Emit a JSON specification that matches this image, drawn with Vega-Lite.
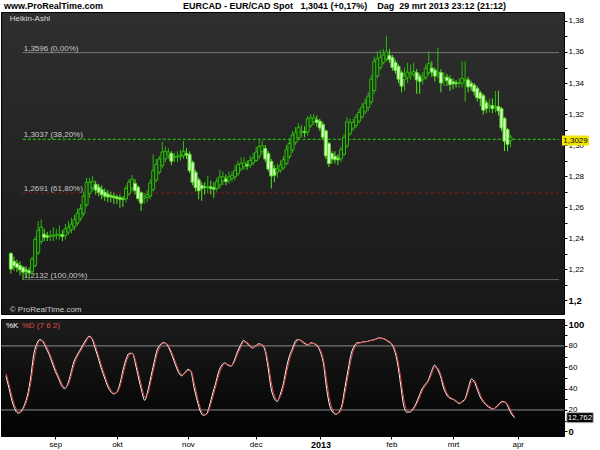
{
"$schema": "https://vega.github.io/schema/vega-lite/v6.json",
"background": "#ffffff",
"padding": {"left": 0, "top": 1, "right": 0, "bottom": 0},
"config": {"font": "Liberation Sans", "view": {"stroke": "#000000"}, "axis": {"labelOverlap": false}},
"title": {"text": "www.ProRealTime.com\u00a0\u00a0\u00a0\u00a0\u00a0\u00a0\u00a0\u00a0\u00a0\u00a0\u00a0\u00a0\u00a0\u00a0\u00a0\u00a0\u00a0\u00a0\u00a0\u00a0\u00a0\u00a0\u00a0\u00a0\u00a0\u00a0\u00a0\u00a0\u00a0\u00a0\u00a0\u00a0EURCAD - EUR/CAD Spot\u00a0\u00a0\u00a01,3041 (+0,17%)\u00a0\u00a0\u00a0\u00a0Dag\u00a0\u00a029 mrt 2013 23:12 (21:12)", "anchor": "start", "frame": "bounds", "fontSize": 9, "fontWeight": "bold", "color": "#000000", "offset": 1, "dx": 4},
"datasets": {
"ha": [
{"t":0,"o":1.2300,"h":1.2310,"l":1.2170,"c":1.2200,"k":52,"d":54},
{"t":1,"o":1.2250,"h":1.2280,"l":1.2190,"c":1.2220,"k":40,"d":44},
{"t":2,"o":1.2235,"h":1.2260,"l":1.2180,"c":1.2210,"k":28,"d":32},
{"t":3,"o":1.2222,"h":1.2250,"l":1.2160,"c":1.2195,"k":20,"d":23},
{"t":4,"o":1.2210,"h":1.2220,"l":1.2130,"c":1.2180,"k":17,"d":18},
{"t":5,"o":1.2195,"h":1.2220,"l":1.2150,"c":1.2185,"k":19,"d":18.3},
{"t":6,"o":1.2190,"h":1.2210,"l":1.2140,"c":1.2175,"k":25,"d":23},
{"t":7,"o":1.2182,"h":1.2280,"l":1.2160,"c":1.2265,"k":34,"d":31},
{"t":8,"o":1.2223,"h":1.2410,"l":1.2210,"c":1.2390,"k":50,"d":44.7},
{"t":9,"o":1.2305,"h":1.2510,"l":1.2290,"c":1.2450,"k":72,"d":64.7},
{"t":10,"o":1.2378,"h":1.2520,"l":1.2360,"c":1.2470,"k":82,"d":78.7},
{"t":11,"o":1.2425,"h":1.2460,"l":1.2380,"c":1.2405,"k":86,"d":84.7},
{"t":12,"o":1.2415,"h":1.2440,"l":1.2380,"c":1.2405,"k":84,"d":84.7},
{"t":13,"o":1.2410,"h":1.2450,"l":1.2380,"c":1.2415,"k":78,"d":80},
{"t":14,"o":1.2412,"h":1.2470,"l":1.2380,"c":1.2420,"k":72,"d":74},
{"t":15,"o":1.2416,"h":1.2460,"l":1.2390,"c":1.2420,"k":64,"d":66.7},
{"t":16,"o":1.2418,"h":1.2480,"l":1.2390,"c":1.2425,"k":56,"d":58.7},
{"t":17,"o":1.2422,"h":1.2450,"l":1.2380,"c":1.2410,"k":50,"d":52},
{"t":18,"o":1.2416,"h":1.2490,"l":1.2390,"c":1.2460,"k":43,"d":45.3},
{"t":19,"o":1.2438,"h":1.2510,"l":1.2420,"c":1.2470,"k":40,"d":41},
{"t":20,"o":1.2454,"h":1.2530,"l":1.2430,"c":1.2490,"k":44,"d":42.7},
{"t":21,"o":1.2472,"h":1.2550,"l":1.2450,"c":1.2520,"k":54,"d":50.7},
{"t":22,"o":1.2496,"h":1.2590,"l":1.2480,"c":1.2560,"k":65,"d":61.3},
{"t":23,"o":1.2528,"h":1.2620,"l":1.2510,"c":1.2590,"k":71,"d":69},
{"t":24,"o":1.2559,"h":1.2700,"l":1.2540,"c":1.2670,"k":76,"d":74.3},
{"t":25,"o":1.2615,"h":1.2790,"l":1.2600,"c":1.2760,"k":81,"d":79.3},
{"t":26,"o":1.2688,"h":1.2790,"l":1.2660,"c":1.2760,"k":86,"d":84.3},
{"t":27,"o":1.2724,"h":1.2800,"l":1.2700,"c":1.2765,"k":89,"d":88},
{"t":28,"o":1.2745,"h":1.2770,"l":1.2680,"c":1.2710,"k":86,"d":87},
{"t":29,"o":1.2728,"h":1.2750,"l":1.2670,"c":1.2695,"k":77,"d":80},
{"t":30,"o":1.2712,"h":1.2740,"l":1.2650,"c":1.2680,"k":68,"d":71},
{"t":31,"o":1.2696,"h":1.2720,"l":1.2640,"c":1.2670,"k":58,"d":61.3},
{"t":32,"o":1.2683,"h":1.2710,"l":1.2630,"c":1.2665,"k":50,"d":52.7},
{"t":33,"o":1.2674,"h":1.2700,"l":1.2630,"c":1.2665,"k":42,"d":44.7},
{"t":34,"o":1.2670,"h":1.2690,"l":1.2620,"c":1.2660,"k":37,"d":38.7},
{"t":35,"o":1.2665,"h":1.2680,"l":1.2620,"c":1.2655,"k":35,"d":35.7},
{"t":36,"o":1.2660,"h":1.2680,"l":1.2595,"c":1.2650,"k":37,"d":36.3},
{"t":37,"o":1.2655,"h":1.2670,"l":1.2600,"c":1.2650,"k":45,"d":42.3},
{"t":38,"o":1.2652,"h":1.2740,"l":1.2630,"c":1.2720,"k":58,"d":53.7},
{"t":39,"o":1.2686,"h":1.2780,"l":1.2670,"c":1.2760,"k":68,"d":64.7},
{"t":40,"o":1.2723,"h":1.2807,"l":1.2700,"c":1.2780,"k":73,"d":71.3},
{"t":41,"o":1.2751,"h":1.2780,"l":1.2680,"c":1.2705,"k":73,"d":73},
{"t":42,"o":1.2728,"h":1.2740,"l":1.2640,"c":1.2655,"k":63,"d":66.3},
{"t":43,"o":1.2692,"h":1.2700,"l":1.2575,"c":1.2625,"k":50,"d":54.3},
{"t":44,"o":1.2658,"h":1.2690,"l":1.2620,"c":1.2665,"k":38,"d":42},
{"t":45,"o":1.2662,"h":1.2710,"l":1.2630,"c":1.2680,"k":29,"d":32},
{"t":46,"o":1.2671,"h":1.2780,"l":1.2650,"c":1.2755,"k":38,"d":35},
{"t":47,"o":1.2713,"h":1.2940,"l":1.2700,"c":1.2835,"k":51,"d":46.7},
{"t":48,"o":1.2774,"h":1.2910,"l":1.2760,"c":1.2875,"k":64,"d":59.7},
{"t":49,"o":1.2825,"h":1.2930,"l":1.2810,"c":1.2910,"k":76,"d":72},
{"t":50,"o":1.2868,"h":1.3020,"l":1.2850,"c":1.2955,"k":81,"d":79.3},
{"t":51,"o":1.2911,"h":1.2990,"l":1.2890,"c":1.2960,"k":83,"d":82.3},
{"t":52,"o":1.2935,"h":1.2980,"l":1.2910,"c":1.2955,"k":82,"d":82.3},
{"t":53,"o":1.2945,"h":1.2960,"l":1.2870,"c":1.2895,"k":77,"d":78.7},
{"t":54,"o":1.2920,"h":1.2950,"l":1.2890,"c":1.2925,"k":70,"d":72.3},
{"t":55,"o":1.2922,"h":1.2960,"l":1.2890,"c":1.2928,"k":62,"d":64.7},
{"t":56,"o":1.2925,"h":1.2970,"l":1.2900,"c":1.2935,"k":55,"d":57.3},
{"t":57,"o":1.2930,"h":1.3026,"l":1.2910,"c":1.2960,"k":52,"d":53},
{"t":58,"o":1.2945,"h":1.2980,"l":1.2910,"c":1.2935,"k":55,"d":54},
{"t":59,"o":1.2940,"h":1.2960,"l":1.2820,"c":1.2835,"k":58,"d":57},
{"t":60,"o":1.2888,"h":1.2900,"l":1.2740,"c":1.2760,"k":56,"d":56.7},
{"t":61,"o":1.2824,"h":1.2840,"l":1.2700,"c":1.2725,"k":41,"d":46},
{"t":62,"o":1.2775,"h":1.2790,"l":1.2650,"c":1.2705,"k":29,"d":33},
{"t":63,"o":1.2740,"h":1.2760,"l":1.2640,"c":1.2720,"k":19,"d":22.3},
{"t":64,"o":1.2730,"h":1.2760,"l":1.2680,"c":1.2725,"k":15,"d":16.3},
{"t":65,"o":1.2728,"h":1.2800,"l":1.2690,"c":1.2732,"k":16,"d":15.7},
{"t":66,"o":1.2730,"h":1.2770,"l":1.2680,"c":1.2720,"k":24,"d":21.3},
{"t":67,"o":1.2725,"h":1.2760,"l":1.2660,"c":1.2715,"k":35,"d":31.3},
{"t":68,"o":1.2720,"h":1.2790,"l":1.2700,"c":1.2765,"k":45,"d":41.7},
{"t":69,"o":1.2742,"h":1.2840,"l":1.2720,"c":1.2795,"k":56,"d":52.3},
{"t":70,"o":1.2768,"h":1.2830,"l":1.2740,"c":1.2795,"k":62,"d":60},
{"t":71,"o":1.2781,"h":1.2810,"l":1.2740,"c":1.2765,"k":64,"d":63.3},
{"t":72,"o":1.2773,"h":1.2830,"l":1.2750,"c":1.2795,"k":62,"d":62.7},
{"t":73,"o":1.2784,"h":1.2830,"l":1.2760,"c":1.2805,"k":61,"d":61.3},
{"t":74,"o":1.2795,"h":1.2870,"l":1.2770,"c":1.2835,"k":66,"d":64.3},
{"t":75,"o":1.2815,"h":1.2900,"l":1.2800,"c":1.2875,"k":74,"d":71.3},
{"t":76,"o":1.2845,"h":1.2920,"l":1.2830,"c":1.2880,"k":80,"d":78},
{"t":77,"o":1.2862,"h":1.2920,"l":1.2840,"c":1.2885,"k":85,"d":83.3},
{"t":78,"o":1.2874,"h":1.2900,"l":1.2840,"c":1.2865,"k":83,"d":83.7},
{"t":79,"o":1.2870,"h":1.2930,"l":1.2850,"c":1.2900,"k":80,"d":81},
{"t":80,"o":1.2885,"h":1.2950,"l":1.2870,"c":1.2915,"k":78,"d":78.7},
{"t":81,"o":1.2900,"h":1.2990,"l":1.2890,"c":1.2955,"k":80,"d":79.3},
{"t":82,"o":1.2928,"h":1.3035,"l":1.2910,"c":1.2990,"k":82,"d":81.3},
{"t":83,"o":1.2959,"h":1.3030,"l":1.2940,"c":1.2995,"k":81,"d":81.3},
{"t":84,"o":1.2977,"h":1.3000,"l":1.2890,"c":1.2910,"k":76,"d":77.7},
{"t":85,"o":1.2944,"h":1.2960,"l":1.2830,"c":1.2845,"k":60,"d":65.3},
{"t":86,"o":1.2895,"h":1.2910,"l":1.2720,"c":1.2800,"k":40,"d":46.7},
{"t":87,"o":1.2848,"h":1.2870,"l":1.2760,"c":1.2805,"k":31,"d":34},
{"t":88,"o":1.2826,"h":1.2880,"l":1.2790,"c":1.2845,"k":28,"d":29},
{"t":89,"o":1.2836,"h":1.2900,"l":1.2820,"c":1.2870,"k":35,"d":32.7},
{"t":90,"o":1.2853,"h":1.2930,"l":1.2840,"c":1.2905,"k":45,"d":41.7},
{"t":91,"o":1.2879,"h":1.3000,"l":1.2870,"c":1.2970,"k":60,"d":55},
{"t":92,"o":1.2925,"h":1.3040,"l":1.2910,"c":1.3010,"k":71,"d":67.3},
{"t":93,"o":1.2968,"h":1.3090,"l":1.2950,"c":1.3065,"k":78,"d":75.7},
{"t":94,"o":1.3016,"h":1.3115,"l":1.3000,"c":1.3080,"k":85,"d":82.7},
{"t":95,"o":1.3048,"h":1.3140,"l":1.3030,"c":1.3115,"k":86,"d":85.7},
{"t":96,"o":1.3082,"h":1.3130,"l":1.3050,"c":1.3090,"k":84,"d":84.7},
{"t":97,"o":1.3086,"h":1.3120,"l":1.3050,"c":1.3080,"k":82,"d":82.7},
{"t":98,"o":1.3083,"h":1.3187,"l":1.3060,"c":1.3170,"k":81,"d":81.3},
{"t":99,"o":1.3126,"h":1.3200,"l":1.3110,"c":1.3175,"k":83,"d":82.3},
{"t":100,"o":1.3150,"h":1.3200,"l":1.3130,"c":1.3175,"k":82,"d":82.3},
{"t":101,"o":1.3162,"h":1.3190,"l":1.3120,"c":1.3145,"k":80,"d":80.7},
{"t":102,"o":1.3154,"h":1.3170,"l":1.3090,"c":1.3110,"k":74,"d":76},
{"t":103,"o":1.3132,"h":1.3150,"l":1.3030,"c":1.3050,"k":63,"d":66.7},
{"t":104,"o":1.3091,"h":1.3100,"l":1.2910,"c":1.2930,"k":40,"d":47.7},
{"t":105,"o":1.3010,"h":1.3020,"l":1.2858,"c":1.2880,"k":24,"d":29.3},
{"t":106,"o":1.2945,"h":1.2960,"l":1.2880,"c":1.2910,"k":18,"d":20},
{"t":107,"o":1.2928,"h":1.2960,"l":1.2880,"c":1.2905,"k":16,"d":16.7},
{"t":108,"o":1.2916,"h":1.2940,"l":1.2870,"c":1.2905,"k":18,"d":17.3},
{"t":109,"o":1.2911,"h":1.2990,"l":1.2890,"c":1.2970,"k":25,"d":22.7},
{"t":110,"o":1.2940,"h":1.3070,"l":1.2930,"c":1.3050,"k":42,"d":36.3},
{"t":111,"o":1.2995,"h":1.3180,"l":1.2980,"c":1.3150,"k":58,"d":52.7},
{"t":112,"o":1.3073,"h":1.3170,"l":1.3060,"c":1.3145,"k":73,"d":68},
{"t":113,"o":1.3109,"h":1.3170,"l":1.3090,"c":1.3145,"k":80,"d":77.7},
{"t":114,"o":1.3127,"h":1.3200,"l":1.3110,"c":1.3180,"k":83,"d":82},
{"t":115,"o":1.3154,"h":1.3235,"l":1.3140,"c":1.3210,"k":83,"d":83},
{"t":116,"o":1.3182,"h":1.3270,"l":1.3170,"c":1.3245,"k":84,"d":83.7},
{"t":117,"o":1.3214,"h":1.3300,"l":1.3200,"c":1.3270,"k":84,"d":84},
{"t":118,"o":1.3242,"h":1.3340,"l":1.3220,"c":1.3315,"k":85,"d":84.7},
{"t":119,"o":1.3278,"h":1.3450,"l":1.3260,"c":1.3425,"k":85.5,"d":85.3},
{"t":120,"o":1.3352,"h":1.3570,"l":1.3330,"c":1.3540,"k":86.5,"d":86.2},
{"t":121,"o":1.3446,"h":1.3605,"l":1.3430,"c":1.3555,"k":87.5,"d":87.2},
{"t":122,"o":1.3500,"h":1.3615,"l":1.3485,"c":1.3565,"k":87,"d":87.2},
{"t":123,"o":1.3533,"h":1.3620,"l":1.3520,"c":1.3580,"k":86,"d":86.3},
{"t":124,"o":1.3556,"h":1.3705,"l":1.3540,"c":1.3600,"k":84,"d":84.7},
{"t":125,"o":1.3578,"h":1.3620,"l":1.3530,"c":1.3550,"k":82,"d":82.7},
{"t":126,"o":1.3564,"h":1.3580,"l":1.3480,"c":1.3500,"k":76,"d":78},
{"t":127,"o":1.3532,"h":1.3550,"l":1.3460,"c":1.3480,"k":64,"d":68},
{"t":128,"o":1.3506,"h":1.3520,"l":1.3400,"c":1.3425,"k":44,"d":50.7},
{"t":129,"o":1.3466,"h":1.3480,"l":1.3340,"c":1.3380,"k":24,"d":30.7},
{"t":130,"o":1.3423,"h":1.3500,"l":1.3350,"c":1.3445,"k":18,"d":20},
{"t":131,"o":1.3434,"h":1.3530,"l":1.3400,"c":1.3470,"k":18,"d":18},
{"t":132,"o":1.3452,"h":1.3520,"l":1.3420,"c":1.3465,"k":21,"d":20},
{"t":133,"o":1.3458,"h":1.3530,"l":1.3440,"c":1.3475,"k":26,"d":24.3},
{"t":134,"o":1.3467,"h":1.3490,"l":1.3330,"c":1.3420,"k":33,"d":30.7},
{"t":135,"o":1.3443,"h":1.3460,"l":1.3330,"c":1.3410,"k":40,"d":37.7},
{"t":136,"o":1.3427,"h":1.3470,"l":1.3390,"c":1.3445,"k":44,"d":42.7},
{"t":137,"o":1.3436,"h":1.3520,"l":1.3420,"c":1.3495,"k":48,"d":46.7},
{"t":138,"o":1.3466,"h":1.3605,"l":1.3450,"c":1.3525,"k":56,"d":53.3},
{"t":139,"o":1.3496,"h":1.3540,"l":1.3440,"c":1.3470,"k":62,"d":60},
{"t":140,"o":1.3483,"h":1.3500,"l":1.3410,"c":1.3445,"k":58,"d":59.3},
{"t":141,"o":1.3464,"h":1.3625,"l":1.3430,"c":1.3470,"k":51,"d":53.3},
{"t":142,"o":1.3467,"h":1.3490,"l":1.3340,"c":1.3400,"k":40,"d":43.7},
{"t":143,"o":1.3434,"h":1.3470,"l":1.3380,"c":1.3440,"k":34,"d":36},
{"t":144,"o":1.3437,"h":1.3460,"l":1.3380,"c":1.3415,"k":31,"d":32},
{"t":145,"o":1.3426,"h":1.3450,"l":1.3350,"c":1.3390,"k":30,"d":30.3},
{"t":146,"o":1.3408,"h":1.3430,"l":1.3360,"c":1.3395,"k":28,"d":28.7},
{"t":147,"o":1.3402,"h":1.3420,"l":1.3370,"c":1.3395,"k":26,"d":26.7},
{"t":148,"o":1.3398,"h":1.3430,"l":1.3370,"c":1.3400,"k":28,"d":27.3},
{"t":149,"o":1.3399,"h":1.3540,"l":1.3370,"c":1.3430,"k":31,"d":30},
{"t":150,"o":1.3415,"h":1.3540,"l":1.3280,"c":1.3425,"k":41,"d":37.7},
{"t":151,"o":1.3420,"h":1.3440,"l":1.3340,"c":1.3375,"k":49,"d":46.3},
{"t":152,"o":1.3398,"h":1.3415,"l":1.3350,"c":1.3375,"k":46,"d":47},
{"t":153,"o":1.3386,"h":1.3400,"l":1.3320,"c":1.3345,"k":38,"d":40.7},
{"t":154,"o":1.3366,"h":1.3380,"l":1.3280,"c":1.3305,"k":31,"d":33.3},
{"t":155,"o":1.3336,"h":1.3350,"l":1.3250,"c":1.3300,"k":27,"d":28.3},
{"t":156,"o":1.3318,"h":1.3330,"l":1.3195,"c":1.3225,"k":24,"d":25},
{"t":157,"o":1.3272,"h":1.3290,"l":1.3205,"c":1.3235,"k":22,"d":22.7},
{"t":158,"o":1.3253,"h":1.3300,"l":1.3210,"c":1.3256,"k":21,"d":21.3},
{"t":159,"o":1.3254,"h":1.3300,"l":1.3205,"c":1.3235,"k":23,"d":22.3},
{"t":160,"o":1.3245,"h":1.3348,"l":1.3210,"c":1.3250,"k":26,"d":25},
{"t":161,"o":1.3248,"h":1.3350,"l":1.3190,"c":1.3220,"k":28,"d":27.3},
{"t":162,"o":1.3234,"h":1.3245,"l":1.3090,"c":1.3110,"k":27,"d":27.3},
{"t":163,"o":1.3172,"h":1.3180,"l":1.2961,"c":1.3025,"k":22,"d":23.7},
{"t":164,"o":1.3099,"h":1.3110,"l":1.2960,"c":1.3005,"k":16,"d":18},
{"t":165,"o":1.3030,"h":1.3065,"l":1.2985,"c":1.3050,"k":12.762,"d":13.9}
],
"fib": [
{"level":1.3596,"pct":"0,00%","label":"1,3596 (0,00%)"},
{"level":1.3037,"pct":"38,20%","label":"1,3037 (38,20%)"},
{"level":1.2691,"pct":"61,80%","label":"1,2691 (61,80%)"},
{"level":1.2132,"pct":"100,00%","label":"1,2132 (100,00%)"}
],
"lv": [{"v":20},{"v":80}]
},
"spacing": 3,
"vconcat": [
{
"width": 563, "height": 302,
"view": {"stroke": "#000000", "fill": {"gradient": "linear", "x1": 0, "y1": 0, "x2": 0, "y2": 1, "stops": [{"offset": 0, "color": "#2f2f2f"}, {"offset": 1, "color": "#181818"}]}},
"layer": [
{"data": {"name": "fib"}, "mark": {"type": "rule", "strokeWidth": 1},
 "encoding": {
  "x": {"datum": 3.9, "type": "quantitative", "scale": {"domain": [-1.62, 181], "nice": false, "zero": false}, "axis": null},
  "x2": {"datum": 181},
  "y": {"field": "level", "type": "quantitative", "title": null, "scale": {"domain": [1.191, 1.3858], "nice": false, "zero": false},
   "axis": {"orient": "right", "tickCount": 100, "values": [1.2,1.21,1.22,1.23,1.24,1.25,1.26,1.27,1.28,1.29,1.3,1.31,1.32,1.33,1.34,1.35,1.36,1.37,1.38],
    "labelExpr": "round(datum.value*100) % 2 == 0 ? (abs(datum.value-1.2) < 0.001 ? '1,2' : replace(format(datum.value, '.2f'), '.', ',')) : ''",
    "labelFontSize": {"condition": {"test": "abs(datum.value-1.2) < 0.001", "value": 9.5}, "value": 8},
    "labelFontWeight": {"condition": {"test": "abs(datum.value-1.2) < 0.001", "value": "bold"}, "value": "normal"},
    "tickSize": 3, "tickColor": "#000000", "labelColor": "#000000", "domain": false, "grid": false,
    "labelPadding": 1, "title": null, "labelFlush": false, "labelOverlap": false, "labelBound": false}},
  "color": {"field": "pct", "type": "nominal", "scale": {"domain": ["0,00%","38,20%","61,80%","100,00%"], "range": ["#8a8a8a","#22dd00","#8c1a1a","#6e6e6e"]}, "legend": null},
  "strokeDash": {"field": "pct", "type": "nominal", "scale": {"domain": ["0,00%","38,20%","61,80%","100,00%"], "range": [[1,0],[3,2],[3,3],[1,0]]}, "legend": null}
 }},
{"data": {"name": "fib"}, "mark": {"type": "text", "align": "left", "baseline": "alphabetic", "dy": -2, "dx": 1, "fontSize": 8, "color": "#c8c8c8"},
 "encoding": {
  "x": {"datum": 3.9, "type": "quantitative", "axis": null},
  "y": {"field": "level", "type": "quantitative", "title": null},
  "text": {"field": "label"}
 }},
{"data": {"name": "ha"}, "mark": {"type": "rule", "strokeWidth": 1},
 "encoding": {
  "x": {"field": "t", "type": "quantitative", "axis": null},
  "y": {"field": "l", "type": "quantitative", "title": null},
  "y2": {"field": "h"},
  "color": {"condition": {"test": "datum.c < datum.o", "value": "#55e622"}, "value": "#2db80e"}
 }},
{"data": {"name": "ha"}, "mark": {"type": "bar", "width": 3, "strokeWidth": 1},
 "encoding": {
  "x": {"field": "t", "type": "quantitative", "axis": null},
  "y": {"field": "o", "type": "quantitative", "title": null},
  "y2": {"field": "c"},
  "fill": {"condition": {"test": "datum.c < datum.o", "value": "#dcf8cc"}, "value": "#1d3317"},
  "stroke": {"condition": {"test": "datum.c < datum.o", "value": "#55e622"}, "value": "#2db80e"}
 }},
{"data": {"values": [{"txt": "Heikin-Ashi"}]}, "mark": {"type": "text", "align": "left", "baseline": "middle", "fontSize": 8, "color": "#d8d8d8"},
 "encoding": {
  "x": {"datum": -0.4, "type": "quantitative", "axis": null},
  "y": {"datum": 1.3815, "type": "quantitative", "title": null},
  "text": {"field": "txt"}
 }},
{"data": {"values": [{"txt": "\u00a9 ProRealTime.com"}]}, "mark": {"type": "text", "align": "left", "baseline": "middle", "fontSize": 8, "color": "#c8c8c8"},
 "encoding": {
  "x": {"datum": -0.4, "type": "quantitative", "axis": null},
  "y": {"datum": 1.1937, "type": "quantitative", "title": null},
  "text": {"field": "txt"}
 }},
{"data": {"values": [{"price": 1.3029, "txt": "1,3029"}]}, "mark": {"type": "point", "shape": "M-1,-0.37H1V0.37H-1Z", "size": 729, "filled": true, "color": "#f2e600", "opacity": 1, "strokeWidth": 0, "xOffset": 16.5},
 "encoding": {
  "x": {"datum": 181, "type": "quantitative", "axis": null},
  "y": {"field": "price", "type": "quantitative", "title": null}
 }},
{"data": {"values": [{"price": 1.3029, "txt": "1,3029"}]}, "mark": {"type": "text", "dx": 16.5, "fontSize": 8, "color": "#000000", "align": "center", "baseline": "middle"},
 "encoding": {
  "x": {"datum": 181, "type": "quantitative", "axis": null},
  "y": {"field": "price", "type": "quantitative", "title": null},
  "text": {"field": "txt"}
 }}
]
},
{
"width": 563, "height": 117,
"view": {"stroke": "#000000", "fill": {"gradient": "linear", "x1": 0, "y1": 0, "x2": 0, "y2": 1, "stops": [{"offset": 0, "color": "#1c1c1c"}, {"offset": 1, "color": "#020202"}]}},
"layer": [
{"data": {"name": "lv"}, "mark": {"type": "rule", "color": "#8c8c8c", "strokeWidth": 1},
 "encoding": {
  "y": {"field": "v", "type": "quantitative", "title": null, "scale": {"domain": [-4.4, 105.2], "nice": false, "zero": false},
   "axis": {"orient": "right", "tickCount": 100, "values": [0,10,20,30,40,50,60,70,80,90,100],
    "labelExpr": "datum.value % 20 == 0 ? datum.label : ''",
    "labelFontSize": {"condition": {"test": "datum.value == 0 || datum.value == 100", "value": 9.5}, "value": 8},
    "labelFontWeight": {"condition": {"test": "datum.value == 0 || datum.value == 100", "value": "bold"}, "value": "normal"},
    "tickSize": 3, "tickColor": "#000000", "labelColor": "#000000", "domain": false, "grid": false,
    "labelPadding": 1, "title": null, "labelFlush": false, "labelOverlap": false, "labelBound": false}}
 }},
{"data": {"name": "ha"}, "mark": {"type": "line", "color": "#ffffff", "strokeWidth": 1, "interpolate": "monotone"},
 "encoding": {
  "x": {"field": "t", "type": "quantitative", "title": null, "scale": {"domain": [-1.62, 181], "nice": false, "zero": false},
   "axis": {"tickCount": 100, "values": [16,36,59,81,102,125,145,166],
    "labelExpr": "datum.value == 16 ? 'sep' : datum.value == 36 ? 'okt' : datum.value == 59 ? 'nov' : datum.value == 81 ? 'dec' : datum.value == 102 ? '2013' : datum.value == 125 ? 'feb' : datum.value == 145 ? 'mrt' : 'apr'",
    "labelFontSize": {"condition": {"test": "datum.value == 102", "value": 9}, "value": 8},
    "labelFontWeight": {"condition": {"test": "datum.value == 102", "value": "bold"}, "value": "normal"},
    "tickSize": 3, "tickColor": "#000000", "labelColor": "#000000", "domain": false, "grid": false,
    "labelPadding": 1, "title": null, "labelFlush": false, "labelOverlap": false}},
  "y": {"field": "k", "type": "quantitative", "title": null}
 }},
{"data": {"name": "ha"}, "mark": {"type": "line", "color": "#e04a4a", "strokeWidth": 1, "interpolate": "monotone"},
 "encoding": {
  "x": {"field": "t", "type": "quantitative", "title": null},
  "y": {"field": "d", "type": "quantitative", "title": null}
 }},
{"data": {"values": [{"txt": "%K"}]}, "mark": {"type": "text", "align": "left", "baseline": "middle", "fontSize": 8, "color": "#ffffff"},
 "encoding": {
  "x": {"datum": 0, "type": "quantitative", "title": null},
  "y": {"datum": 98.7, "type": "quantitative", "title": null},
  "text": {"field": "txt"}
 }},
{"data": {"values": [{"txt": "%D (7 6 2)"}]}, "mark": {"type": "text", "align": "left", "baseline": "middle", "fontSize": 8, "color": "#e04a4a"},
 "encoding": {
  "x": {"datum": 5.1, "type": "quantitative", "title": null},
  "y": {"datum": 98.7, "type": "quantitative", "title": null},
  "text": {"field": "txt"}
 }},
{"data": {"values": [{"val": 12.762, "txt": "12,762"}]}, "mark": {"type": "point", "shape": "M-1,-0.38H1V0.38H-1Z", "size": 700, "filled": true, "fill": "#000000", "stroke": "#b8b8b8", "strokeWidth": 1, "opacity": 1, "xOffset": 16},
 "encoding": {
  "x": {"datum": 181, "type": "quantitative", "title": null},
  "y": {"field": "val", "type": "quantitative", "title": null}
 }},
{"data": {"values": [{"val": 12.762, "txt": "12,762"}]}, "mark": {"type": "text", "dx": 16, "fontSize": 8, "color": "#ffffff", "align": "center", "baseline": "middle"},
 "encoding": {
  "x": {"datum": 181, "type": "quantitative", "title": null},
  "y": {"field": "val", "type": "quantitative", "title": null},
  "text": {"field": "txt"}
 }}
]
}
]
}
